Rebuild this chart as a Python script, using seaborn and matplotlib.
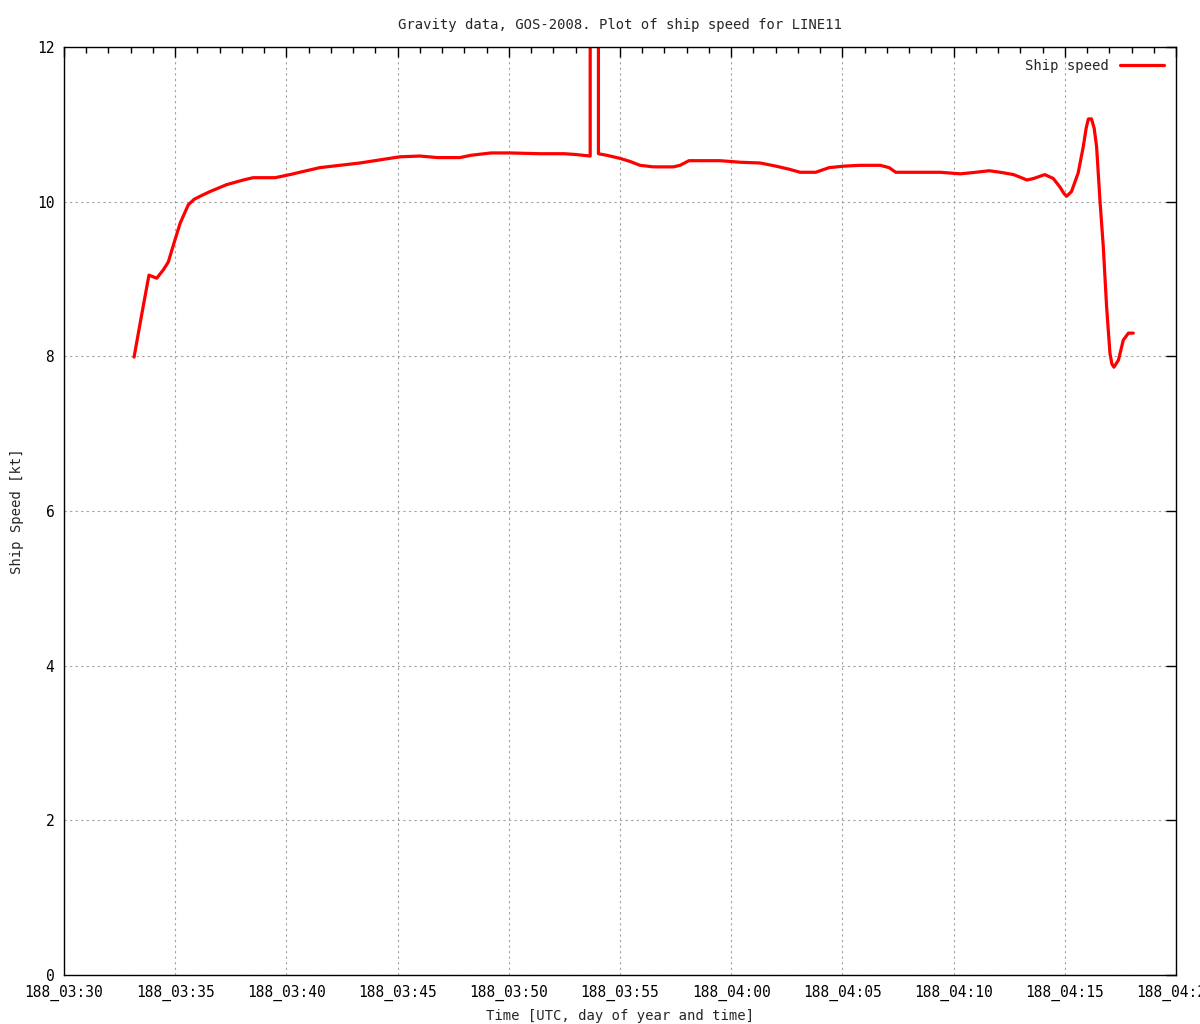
import matplotlib
matplotlib.use("Agg")
import matplotlib.pyplot as plt
from matplotlib.ticker import MultipleLocator
import numpy as np
import pandas as pd
import seaborn as sns

# minutes after 188_03:30 (UTC)
minutes = [3.15, 3.5, 3.82, 4.17, 4.47, 4.69, 4.92, 5.22, 5.59, 5.85, 6.12, 6.56, 7.31, 8.06,
           8.5, 9.49, 10.16, 10.6, 11.5, 12.4, 13.3, 14.2, 15.1, 16.0, 16.8, 17.8, 18.3,
           19.2, 20.05, 21.4, 22.5, 23.0, 23.66, 23.67, 24.02, 24.03, 24.4, 25.0, 25.45,
           25.9, 26.5, 27.4, 27.7, 28.1, 29.5, 30.4, 31.3, 32.0, 32.6, 33.1, 33.8, 34.4,
           35.1, 35.8, 36.7, 37.1, 37.4, 38.5, 39.4, 40.3, 41.0, 41.6, 42.1, 42.7, 43.3,
           43.6, 44.1, 44.48, 44.78, 44.95, 45.08, 45.3, 45.6, 45.83, 45.96, 46.06, 46.2,
           46.32, 46.43, 46.58, 46.73, 46.88, 47.03, 47.12, 47.21, 47.41, 47.63, 47.86, 48.08]
speed = [7.99, 8.55, 9.05, 9.01, 9.12, 9.22, 9.44, 9.72, 9.96, 10.03, 10.07, 10.13, 10.22, 10.28,
         10.31, 10.31, 10.35, 10.38, 10.44, 10.47, 10.5, 10.54, 10.58, 10.59, 10.57, 10.57, 10.6,
         10.63, 10.63, 10.62, 10.62, 10.61, 10.59, 99.0, 99.0, 10.62, 10.6, 10.56, 10.52,
         10.47, 10.45, 10.45, 10.47, 10.53, 10.53, 10.51, 10.5, 10.46, 10.42, 10.38, 10.38, 10.44,
         10.46, 10.47, 10.47, 10.44, 10.38, 10.38, 10.38, 10.36, 10.38, 10.4, 10.38, 10.35, 10.28,
         10.3, 10.35, 10.3, 10.19, 10.11, 10.07, 10.13, 10.37, 10.71, 10.95, 11.07, 11.07,
         10.95, 10.71, 10.02, 9.42, 8.64, 8.04, 7.9, 7.86, 7.95, 8.21, 8.3, 8.3]

tick_minutes = [0, 5, 10, 15, 20, 25, 30, 35, 40, 45, 50]
tick_labels = ["188_03:30", "188_03:35", "188_03:40", "188_03:45", "188_03:50", "188_03:55",
               "188_04:00", "188_04:05", "188_04:10", "188_04:15", "188_04:20"]

df = pd.DataFrame({"t": minutes, "v": speed})

sns.set_style("white")
plt.rcParams["font.family"] = ["DejaVu Sans Mono"]
plt.rcParams["font.size"] = 10

fig = plt.figure(figsize=(12, 10.24), dpi=100)
ax = fig.add_axes([64/1200, 1 - 975/1024, (1176 - 64)/1200, (975 - 47)/1024])

sns.lineplot(data=df, x="t", y="v", ax=ax, color="#ff0000", linewidth=2.3,
             label="Ship speed", sort=False)

ax.set_xlim(0, 50)
ax.set_ylim(0, 12)
ax.set_xticks(tick_minutes)
ax.set_xticklabels(tick_labels)
ax.set_yticks(range(0, 13, 2))
ax.xaxis.set_minor_locator(MultipleLocator(1))
ax.tick_params(which="both", direction="in", top=True, right=True, colors="black",
               labelsize=10.5, pad=7)
ax.tick_params(which="major", length=7, width=1)
ax.tick_params(which="minor", length=4, width=1)
ax.tick_params(axis="y", which="minor", left=False, right=False)
ax.grid(True, which="major", color="#a0a0a0", linestyle=(0, (2, 3)), linewidth=0.8)
for s in ax.spines.values():
    s.set_color("black")
    s.set_linewidth(1)

ax.set_title("Gravity data, GOS-2008. Plot of ship speed for LINE11", fontsize=10, pad=13)
ax.set_xlabel("Time [UTC, day of year and time]", fontsize=10, labelpad=6)
ax.set_ylabel("Ship Speed [kt]", fontsize=10, labelpad=9)

leg = ax.legend(loc="upper right", frameon=False, markerfirst=False, fontsize=10,
                handlelength=3.2, borderaxespad=0.45)

fig.savefig("out.png", dpi=100)
